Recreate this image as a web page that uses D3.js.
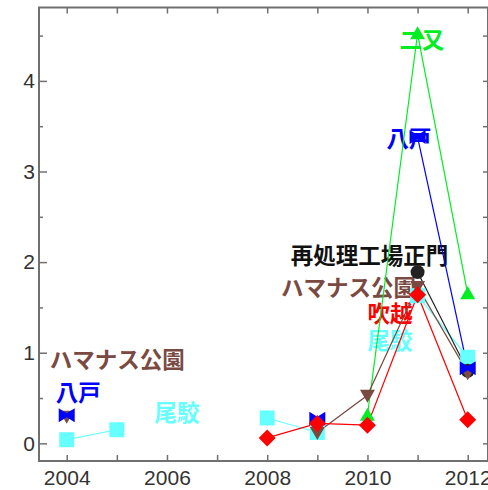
<!DOCTYPE html>
<html>
<head>
<meta charset="utf-8">
<script src="https://cdn.jsdelivr.net/npm/d3@7"></script>
<style>
  html, body { margin: 0; padding: 0; background: #fff; }
  svg { display: block; }
</style>
</head>
<body>
<svg id="chart" width="488" height="490"></svg>
<script>
// Measurement years
const years = [2004, 2005, 2006, 2007, 2008, 2009, 2010, 2011, 2012];

// Series values per year (null = no measurement)
const futamata   = [null, null, null, null, null, null, 0.31, 4.52, 1.65];   // 二又
const hachinohe  = [0.31, null, null, null, null, 0.27, null, 3.38, 0.83];   // 八戸
const obuchi     = [0.04, 0.15, null, null, 0.28, 0.12, null, 1.63, 0.95];   // 尾駮
const fukkoshi   = [null, null, null, null, 0.06, 0.22, 0.20, 1.64, 0.26];   // 吹越
const hamanasu   = [0.30, null, null, null, null, 0.12, 0.53, 1.73, 0.78];   // ハマナス公園
const seimon     = [null, null, null, null, null, null, null, 1.89, 0.80];   // 再処理工場正門

// Tick values
const xTicks = years;
const yMajorTicks = [0, 1, 2, 3, 4];
const yMinorTicks = [0.5, 1.5, 2.5, 3.5, 4.5];

// Annotation labels: text, series key, anchor year, anchor value
const labelText  = ["二又", "八戸", "再処理工場正門", "ハマナス公園", "吹越", "尾駮", "ハマナス公園", "八戸", "尾駮"];
const labelKey   = ["futamata", "hachinohe", "seimon", "hamanasu", "fukkoshi", "obuchi", "hamanasu", "hachinohe", "obuchi"];
const labelYear  = [2011.09, 2010.83, 2010.04, 2009.62, 2010.45, 2010.45, 2005.01, 2004.23, 2006.2];
const labelValue = [4.47, 3.38, 2.09, 1.735, 1.45, 1.15, 0.94, 0.58, 0.36];

const series = [
  { key: "obuchi",    values: obuchi,    color: "#66ffff", text: "#66ffff", marker: "square" },
  { key: "seimon",    values: seimon,    color: "#222222", text: "#111111", marker: "circle" },
  { key: "futamata",  values: futamata,  color: "#00ee22", text: "#00ee22", marker: "triUp" },
  { key: "hamanasu",  values: hamanasu,  color: "#7a4a42", text: "#7a4a42", marker: "triDown" },
  { key: "hachinohe", values: hachinohe, color: "#0000ff", text: "#0000ff", marker: "bowtie" },
  { key: "fukkoshi",  values: fukkoshi,  color: "#ff0000", text: "#ff0000", marker: "diamond" }
];
const colorOf = Object.fromEntries(series.map(s => [s.key, s.text]));

const svg = d3.select("#chart");
const plotLeft = 39, plotRight = 488, plotTop = 7.5, plotBottom = 461;

const x = d3.scaleLinear().domain([2003.447, 2012.405]).range([plotLeft, plotRight]);
const y = d3.scaleLinear().domain([-0.195, 4.81]).range([plotBottom, plotTop]);

const axisColor = "#707070";

// Frame
svg.append("rect")
  .attr("x", plotLeft).attr("y", plotTop)
  .attr("width", plotRight - plotLeft).attr("height", plotBottom - plotTop)
  .attr("fill", "none").attr("stroke", axisColor).attr("stroke-width", 2);

function styleAxis(g) {
  g.select(".domain").remove();
  g.selectAll(".tick line").attr("stroke", axisColor).attr("stroke-width", 1.5);
  g.selectAll(".tick text")
    .attr("fill", "#333")
    .attr("font-family", "'Liberation Sans', Arial, sans-serif")
    .attr("font-size", 21);
}

// Bottom axis: ticks every year, labels on even years
svg.append("g").attr("transform", `translate(0,${plotBottom})`)
  .call(d3.axisBottom(x).tickValues(xTicks).tickSizeInner(-6).tickSizeOuter(0).tickPadding(9)
    .tickFormat(d => d % 2 === 0 ? String(d) : ""))
  .call(styleAxis);

// Top axis: ticks only
svg.append("g").attr("transform", `translate(0,${plotTop})`)
  .call(d3.axisTop(x).tickValues(xTicks).tickSizeInner(-6).tickSizeOuter(0).tickFormat(""))
  .call(styleAxis);

// Left axis: labelled integers plus half-unit minor ticks
svg.append("g").attr("transform", `translate(${plotLeft},0)`)
  .call(d3.axisLeft(y).tickValues(yMajorTicks).tickSizeInner(-8).tickSizeOuter(0).tickPadding(4)
    .tickFormat(d3.format("d")))
  .call(styleAxis);
svg.append("g").attr("transform", `translate(${plotLeft},0)`)
  .call(d3.axisLeft(y).tickValues(yMinorTicks).tickSizeInner(-4).tickSizeOuter(0).tickFormat(""))
  .call(styleAxis);

// Right axis: ticks only
svg.append("g").attr("transform", `translate(${plotRight},0)`)
  .call(d3.axisRight(y).tickValues(yMajorTicks.concat(yMinorTicks)).tickSizeInner(-5).tickSizeOuter(0).tickFormat(""))
  .call(styleAxis);

// Text annotations
svg.append("g").selectAll("text")
  .data(labelText.map((t, i) => ({ t, key: labelKey[i], yr: labelYear[i], v: labelValue[i] })))
  .join("text")
  .attr("x", d => x(d.yr))
  .attr("y", d => y(d.v))
  .attr("text-anchor", "middle")
  .attr("dominant-baseline", "central")
  .attr("font-family", "'Noto Sans CJK JP', sans-serif")
  .attr("font-weight", 700)
  .attr("font-size", 22.5)
  .attr("fill", d => colorOf[d.key])
  .text(d => d.t);

// Marker shapes
const markerPath = {
  square:  "M-7.5,-7.5H7.5V7.5H-7.5Z",
  diamond: "M0,-8.5L8.5,0L0,8.5L-8.5,0Z",
  triUp:   "M0,-7.5L7.5,5.5L-7.5,5.5Z",
  triDown: "M0,7.5L7.5,-5.5L-7.5,-5.5Z",
  bowtie:  "M-8,-7L0,-2L8,-7L8,7L0,2L-8,7Z",
  circle:  "M7,0A7,7 0 1,1 -7,0A7,7 0 1,1 7,0Z"
};

const line = d3.line()
  .defined(d => d.v !== null)
  .x(d => x(d.yr))
  .y(d => y(d.v));

const plot = svg.append("g");
series.forEach(s => {
  const pts = years.map((yr, i) => ({ yr, v: s.values[i] }));
  plot.append("path")
    .datum(pts)
    .attr("fill", "none")
    .attr("stroke", s.color)
    .attr("stroke-width", 1.2)
    .attr("d", line);
});
series.forEach(s => {
  const pts = years.map((yr, i) => ({ yr, v: s.values[i] })).filter(d => d.v !== null);
  plot.append("g").selectAll("path")
    .data(pts)
    .join("path")
    .attr("transform", d => `translate(${x(d.yr)},${y(d.v)})`)
    .attr("d", markerPath[s.marker])
    .attr("fill", s.color);
});
</script>
</body>
</html>
